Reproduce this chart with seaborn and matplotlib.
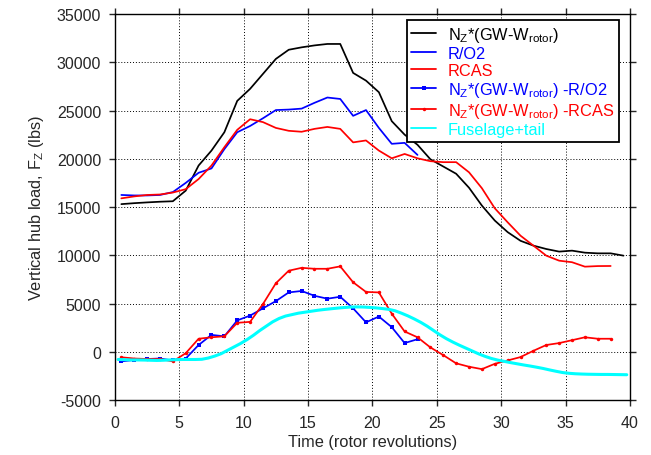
import numpy as np
import pandas as pd
import matplotlib
matplotlib.use("Agg")
import matplotlib.pyplot as plt
import seaborn as sns

# ---------------- data ----------------
t_black = [0.5 + i for i in range(40)]
nz_total = [15300, 15400, 15480, 15550, 15600, 16700, 19300, 20850, 22750, 26000,
            27250, 28800, 30350, 31300, 31550, 31750, 31900, 31900, 28900, 28100,
            26900, 23900, 22500, 21450, 19950, 19200, 18450, 17000, 15150, 13600,
            12400, 11500, 11000, 10650, 10380, 10480, 10270, 10200, 10200, 9960]

t_ro2 = [0.5 + i for i in range(24)]
ro2 = [16250, 16200, 16200, 16250, 16550, 17500, 18550, 19000, 21000, 22750,
       23400, 24200, 25050, 25100, 25200, 25800, 26350, 26200, 24450, 25050,
       23200, 21550, 21650, 20400]

t_rcas = [0.5 + i for i in range(39)]
rcas = [15900, 16100, 16250, 16300, 16500, 16850, 17900, 19300, 21200, 23000,
        24100, 23800, 23200, 22900, 22800, 23100, 23300, 23100, 21700, 21900,
        20850, 20050, 20500, 20050, 19750, 19650, 19650, 18600, 16950, 14870,
        13420, 12030, 11000, 9960, 9440, 9280, 8820, 8880, 8890]

diff_ro2 = [-1000, -850, -750, -700, -900, -700, 700, 1750, 1600, 3250,
            3750, 4500, 5250, 6150, 6300, 5800, 5500, 5700, 4500, 3050,
            3650, 2550, 900, 1300]

diff_rcas = [-570, -700, -750, -750, -1000, -150, 1350, 1500, 1600, 3000,
             3100, 4950, 7100, 8400, 8700, 8600, 8600, 8850, 7200, 6200,
             6150, 3950, 2100, 1500, 450, -350, -1200, -1550, -1800, -1250,
             -900, -550, 100, 700, 900, 1200, 1500, 1350, 1350]

t_fus = [0.25 + 0.5 * i for i in range(80)]
fuselage = [-800, -820, -850, -850, -860, -880, -900, -880, -850, -820,
            -800, -800, -800, -780, -650, -450, -200, 150, 500, 850,
            1250, 1700, 2200, 2650, 3100, 3450, 3700, 3850, 4000, 4100,
            4200, 4300, 4380, 4450, 4520, 4580, 4630, 4650, 4640, 4600,
            4550, 4480, 4400, 4250, 4000, 3720, 3400, 3050, 2650, 2200,
            1750, 1350, 1000, 680, 380, 80, -220, -480, -700, -870,
            -1000, -1130, -1250, -1370, -1480, -1600, -1730, -1880, -2020, -2150,
            -2230, -2280, -2310, -2330, -2340, -2350, -2350, -2360, -2370, -2380]

x_ticks = [0, 5, 10, 15, 20, 25, 30, 35, 40]
y_ticks = [-5000, 0, 5000, 10000, 15000, 20000, 25000, 30000, 35000]

lab_total = r'N$_\mathregular{Z}$*(GW-W$_\mathregular{rotor}$)'
lab_ro2 = 'R/O2'
lab_rcas = 'RCAS'
lab_dro2 = r'N$_\mathregular{Z}$*(GW-W$_\mathregular{rotor}$) -R/O2'
lab_drcas = r'N$_\mathregular{Z}$*(GW-W$_\mathregular{rotor}$) -RCAS'
lab_fus = 'Fuselage+tail'

# ---------------- style ----------------
sns.set_style("ticks")
plt.rcParams['font.family'] = ['Liberation Sans', 'DejaVu Sans']
plt.rcParams['mathtext.fontset'] = 'custom'
plt.rcParams['mathtext.rm'] = 'Liberation Sans'
plt.rcParams['mathtext.it'] = 'Liberation Sans:italic'

fig = plt.figure(figsize=(6.51, 4.56), dpi=100)
ax = fig.add_axes([0.1765, 0.1206, 0.9677 - 0.1765, 0.967 - 0.1206])

common = dict(ax=ax, estimator=None, sort=False)
sns.lineplot(x=t_black, y=nz_total, color='black', lw=1.25, label=lab_total, **common)
sns.lineplot(x=t_ro2, y=ro2, color='#0000ff', lw=1.25, label=lab_ro2, **common)
sns.lineplot(x=t_rcas, y=rcas, color='#ff0000', lw=1.25, label=lab_rcas, **common)
sns.lineplot(x=t_ro2, y=diff_ro2, color='#0000ff', lw=1.25, marker='s', markersize=3,
             markeredgewidth=0, label=lab_dro2, **common)
sns.lineplot(x=t_rcas, y=diff_rcas, color='#ff0000', lw=1.25, marker='o', markersize=2.5,
             markeredgewidth=0, label=lab_drcas, **common)
sns.lineplot(x=t_fus, y=fuselage, color='#00ffff', lw=2.2, label=lab_fus, **common)

ax.set_xlim(0, 40)
ax.set_ylim(-5000, 35000)
ax.set_xticks(x_ticks)
ax.set_yticks(y_ticks)
ax.set_xticklabels([str(v) for v in x_ticks])
ax.set_yticklabels([str(v) for v in y_ticks])
ax.tick_params(direction='out', top=True, right=True, labelsize=11.5, length=4, width=1)
ax.tick_params(axis='x', pad=7)
ax.tick_params(axis='y', pad=6)
ax.grid(True, color='black', linestyle=(0, (1, 2)), linewidth=0.7)
for s in ax.spines.values():
    s.set_linewidth(1.0)
    s.set_color('black')

ax.set_xlabel('Time (rotor revolutions)', fontsize=11.8, labelpad=3)
ax.set_ylabel(r'Vertical hub load, F$_\mathregular{Z}$ (lbs)', fontsize=11.8, labelpad=8)

leg = ax.legend(loc='upper right', bbox_to_anchor=(0.979, 0.9845), fontsize=11.8,
                frameon=True, fancybox=False, framealpha=1, edgecolor='black',
                handlelength=1.5, handletextpad=0.7, labelspacing=0.12,
                borderpad=0.3, borderaxespad=0.0, markerscale=1.0)
leg.get_frame().set_linewidth(1.3)
for h in leg.legend_handles:
    h.set_linewidth(1.3)
colors = ['black', '#0000ff', '#ff0000', '#0000ff', '#ff0000', '#00ffff']
for txt, c in zip(leg.get_texts(), colors):
    txt.set_color(c)

fig.savefig('out.png', dpi=100)
